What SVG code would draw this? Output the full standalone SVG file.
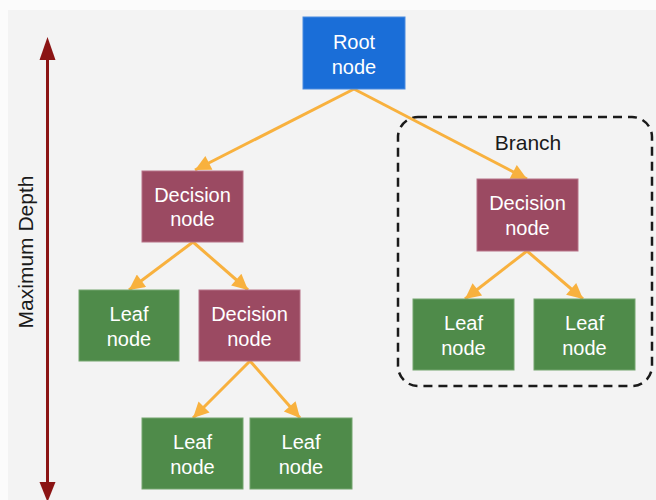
<svg xmlns="http://www.w3.org/2000/svg" width="656" height="500" viewBox="0 0 656 500">
  <style>
    .lbl { font-family: "Liberation Sans", Arial, sans-serif; font-size: 20px; fill: #ffffff; text-anchor: middle; }
    .root { fill: #1a6ed8; stroke: #4a8be0; stroke-width: 1; }
    .dec { fill: #9b4a62; stroke: #b77287; stroke-width: 1; }
    .leaf { fill: #4f8b4a; stroke: #74a56f; stroke-width: 1; }
    .edge { stroke: #f8b13e; stroke-width: 3; fill: none; marker-end: url(#ah); }
    .dark { font-family: "Liberation Sans", Arial, sans-serif; font-size: 21px; fill: #1a1a1a; text-anchor: middle; }
  </style>
  <defs>
    <marker id="ah" viewBox="0 0 10 10" refX="10" refY="5" markerWidth="6.5" markerHeight="5.2" markerUnits="strokeWidth" orient="auto">
      <path d="M0,0 L10,5 L0,10 z" fill="#f8b13e"/>
    </marker>
  </defs>

  <rect x="0" y="0" width="656" height="500" fill="#fbfbfb"/>
  <rect x="8" y="10" width="648" height="490" fill="#f3f3f3"/>

  <!-- depth axis -->
  <g id="depth">
    <line x1="47.5" y1="55" x2="47.5" y2="486" stroke="#8b1414" stroke-width="3"/>
    <path d="M47.5,37 L55.5,60 L39.5,60 z" fill="#8b1414"/>
    <path d="M47.5,502 L55.5,482 L39.5,482 z" fill="#8b1414"/>
    <text class="dark" font-size="21.5" transform="translate(33,252) rotate(-90)">Maximum Depth</text>
  </g>

  <!-- branch outline -->
  <g id="branch">
    <rect x="398" y="117" width="254" height="269" rx="20" ry="20" fill="none" stroke="#1a1a1a" stroke-width="2.5" stroke-dasharray="9,6"/>
    <text class="dark" x="528" y="150">Branch</text>
  </g>

  <g id="connectors">
    <line class="edge" x1="354" y1="89" x2="195" y2="170"/>
    <line class="edge" x1="354" y1="89" x2="527" y2="179"/>
    <line class="edge" x1="193" y1="242" x2="129" y2="290"/>
    <line class="edge" x1="193" y1="242" x2="248" y2="290"/>
    <line class="edge" x1="250" y1="361" x2="193" y2="418"/>
    <line class="edge" x1="250" y1="361" x2="300" y2="418"/>
    <line class="edge" x1="527" y1="251" x2="465" y2="299"/>
    <line class="edge" x1="527" y1="251" x2="583" y2="299"/>
  </g>

  <g id="root">
    <rect class="root" x="303" y="17" width="102" height="72"/>
    <text class="lbl" x="354" y="49">Root</text>
    <text class="lbl" x="354" y="74">node</text>
  </g>

  <g id="decision1">
    <rect class="dec" x="142" y="171" width="101" height="71"/>
    <text class="lbl" x="192.5" y="202">Decision</text>
    <text class="lbl" x="192.5" y="226">node</text>
  </g>

  <g id="leaf1">
    <rect class="leaf" x="79" y="290" width="100" height="71"/>
    <text class="lbl" x="129" y="321">Leaf</text>
    <text class="lbl" x="129" y="346">node</text>
  </g>

  <g id="decision2">
    <rect class="dec" x="199" y="290" width="101" height="71"/>
    <text class="lbl" x="249.5" y="321">Decision</text>
    <text class="lbl" x="249.5" y="346">node</text>
  </g>

  <g id="leaf2">
    <rect class="leaf" x="142" y="418" width="101" height="71"/>
    <text class="lbl" x="192.5" y="449">Leaf</text>
    <text class="lbl" x="192.5" y="474">node</text>
  </g>

  <g id="leaf3">
    <rect class="leaf" x="250" y="418" width="102" height="71"/>
    <text class="lbl" x="301" y="449">Leaf</text>
    <text class="lbl" x="301" y="474">node</text>
  </g>

  <g id="decision3">
    <rect class="dec" x="477" y="179" width="101" height="72"/>
    <text class="lbl" x="527.5" y="210">Decision</text>
    <text class="lbl" x="527.5" y="235">node</text>
  </g>

  <g id="leaf4">
    <rect class="leaf" x="413" y="299" width="101" height="71"/>
    <text class="lbl" x="463.5" y="330">Leaf</text>
    <text class="lbl" x="463.5" y="355">node</text>
  </g>

  <g id="leaf5">
    <rect class="leaf" x="534" y="299" width="101" height="71"/>
    <text class="lbl" x="584.5" y="330">Leaf</text>
    <text class="lbl" x="584.5" y="355">node</text>
  </g>
</svg>
